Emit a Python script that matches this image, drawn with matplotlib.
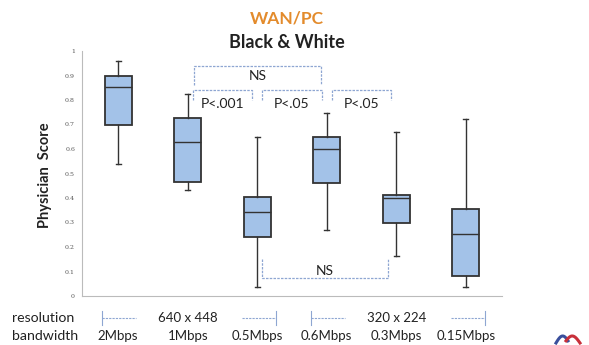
import matplotlib
matplotlib.use("Agg")
import matplotlib.pyplot as plt
import numpy as np

# ---- data ----
bandwidths = ["2Mbps", "1Mbps", "0.5Mbps", "0.6Mbps", "0.3Mbps", "0.15Mbps"]
resolutions = ["640 x 448", "320 x 224"]
whisker_low = [0.54, 0.432, 0.037, 0.27, 0.163, 0.037]
q1 = [0.70, 0.465, 0.24, 0.46, 0.30, 0.082]
median = [0.855, 0.63, 0.343, 0.60, 0.40, 0.253]
q3 = [0.90, 0.727, 0.405, 0.65, 0.412, 0.355]
whisker_high = [0.96, 0.825, 0.65, 0.747, 0.67, 0.722]
yticks = [0, 0.1, 0.2, 0.3, 0.4, 0.5, 0.6, 0.7, 0.8, 0.9, 1]
ytick_labels = ["0", "0.1", "0.2", "0.3", "0.4", "0.5", "0.6", "0.7", "0.8", "0.9", "1"]
# brackets: (from box, to box, label)
top_brackets = [(2, 4, "NS")]
mid_brackets = [(2, 3, "P<.001"), (3, 4, "P<.05"), (4, 5, "P<.05")]
bottom_brackets = [(3, 5, "NS")]

plt.rcParams['font.family'] = ['Lato', 'DejaVu Sans']

fig = plt.figure(figsize=(5.89, 3.45), dpi=100)
ax = fig.add_axes([82/589, 1-296/345, (502-82)/589, (296-51)/345])

positions = np.arange(1, len(bandwidths) + 1)
stats = []
for i in range(len(bandwidths)):
    stats.append(dict(med=median[i], q1=q1[i], q3=q3[i],
                      whislo=whisker_low[i], whishi=whisker_high[i], fliers=[]))

box_fc = "#a3c2e8"
edge = "#333333"
ax.bxp(stats, positions=positions, widths=0.39, patch_artist=True,
       showfliers=False, capwidths=0.07,
       boxprops=dict(facecolor=box_fc, edgecolor=edge, linewidth=1.3),
       medianprops=dict(color=edge, linewidth=1.0),
       whiskerprops=dict(color=edge, linewidth=1.0),
       capprops=dict(color=edge, linewidth=1.0))

ax.set_xlim(0.48, 6.52)
ax.set_ylim(0, 1)
ax.set_xticks([])
ax.set_yticks(yticks)
ax.set_yticklabels(ytick_labels, fontsize=4.5, color="#555555", family="DejaVu Serif")
ax.tick_params(axis='y', length=0, pad=5)
for s in ["top", "right"]:
    ax.spines[s].set_visible(False)
for s in ["left", "bottom"]:
    ax.spines[s].set_color("#bbbbbb")
    ax.spines[s].set_linestyle((0, (2, 1)))
    ax.spines[s].set_linewidth(0.8)

br_col = "#8ea6d2"
br_kw = dict(color=br_col, linewidth=0.9, linestyle=(0, (2, 1)), clip_on=False)
txt_kw = dict(fontsize=10, color="#222222", ha="center", va="center")

for a, b, lab in top_brackets:
    x0, x1 = a + 0.09, b - 0.08
    ax.plot([x0, x0, x1, x1], [0.86, 0.94, 0.94, 0.86], **br_kw)
    ax.text((x0 + x1) / 2, 0.90, lab, **txt_kw)
for a, b, lab in mid_brackets:
    x0, x1 = a + 0.07, b - 0.07
    ax.plot([x0, x0, x1, x1], [0.80, 0.84, 0.84, 0.80], **br_kw)
    ax.text((x0 + x1) / 2, 0.785, lab, **txt_kw)
for a, b, lab in bottom_brackets:
    x0, x1 = a + 0.07, b - 0.12
    ax.plot([x0, x0, x1, x1], [0.15, 0.073, 0.073, 0.15], **br_kw)
    ax.text((x0 + x1) / 2, 0.103, lab, **txt_kw)

# bottom labels
lab_kw = dict(fontsize=9.5, color="#222222", ha="center", va="center", clip_on=False)
for p, bw in zip(positions, bandwidths):
    ax.text(p, -0.163, bw, **lab_kw)
group_centers = [2, 5]
for c, res in zip(group_centers, resolutions):
    ax.text(c, -0.09, res, **lab_kw)
    gkw = dict(color=br_col, linewidth=0.8, linestyle=(0, (2, 1)), clip_on=False)
    ax.plot([c - 1.23, c - 0.74], [-0.09, -0.09], **gkw)
    ax.plot([c - 1.23, c - 1.23], [-0.06, -0.12], color=br_col, linewidth=0.8, clip_on=False)
    ax.plot([c + 0.78, c + 1.27], [-0.09, -0.09], **gkw)
    ax.plot([c + 1.27, c + 1.27], [-0.06, -0.12], color=br_col, linewidth=0.8, clip_on=False)

fig.text(12/589, 1-318/345, "resolution", fontsize=10.2, color="#222222", ha="left", va="center")
fig.text(12/589, 1-336/345, "bandwidth", fontsize=10.2, color="#222222", ha="left", va="center")

fig.text(287/589, 1-18/345, "WAN/PC", fontsize=12.5, color="#e38b2c", weight="bold", ha="center", va="center")
fig.text(287/589, 1-42/345, "Black & White", fontsize=13, color="#222222", weight="bold", ha="center", va="center")
fig.text(45/589, 1-175/345, "Physician  Score", fontsize=10.5, color="#222222", weight="bold",
         rotation=90, ha="center", va="center")

# small decorative logo (bottom right)
t = np.linspace(0, 1, 30)
lx = 556 + 12 * t
ly = 343 - 7 * np.sin(np.pi * t * 0.9)
fig.add_artist(plt.Line2D(lx / 589, 1 - ly / 345, color="#3a4f9c", linewidth=2.2))
rx = 566 + 14 * t
ry = 343 - 7 * np.sin(np.pi * (0.1 + 0.9 * t))
fig.add_artist(plt.Line2D(rx / 589, 1 - ry / 345, color="#c8303a", linewidth=2.2))

fig.savefig("out.png", dpi=100, facecolor="white")
